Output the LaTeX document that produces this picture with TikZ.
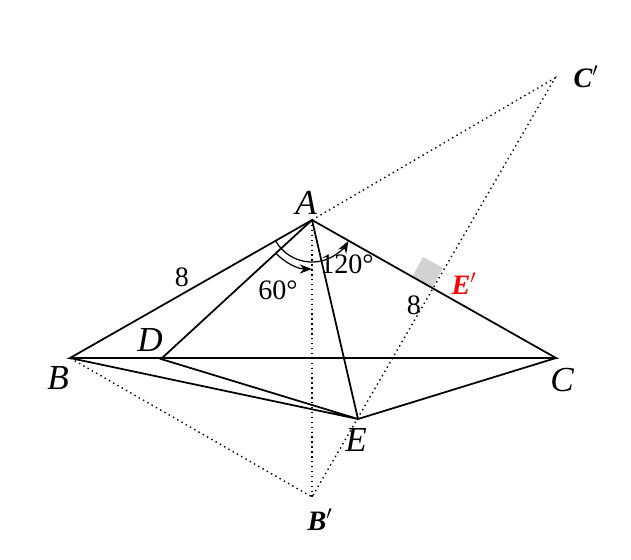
\documentclass[tikz,border=0pt]{standalone}
\usepackage{fontspec}
\setmainfont{Liberation Serif}
\usetikzlibrary{arrows.meta}
\begin{document}
\begin{tikzpicture}[x=0.02cm,y=-0.02cm,line width=1pt,
  dot/.style={dotted,line width=0.8pt},
  lbl/.style={font=\fontsize{20}{20}\selectfont\itshape},
  plbl/.style={font=\fontsize{16}{16}\selectfont\bfseries\itshape},
  num/.style={font=\fontsize{16}{16}\selectfont}]
\useasboundingbox (0,0) rectangle (631,560);
\coordinate (A) at (312,220);
\coordinate (B) at (70,358);
\coordinate (C) at (556,358);
\coordinate (D) at (161,359);
\coordinate (E) at (358,419);
\coordinate (Bp) at (312,497);
\coordinate (Cp) at (555,78);
\coordinate (Ep) at (432,288);
% gray square at E'
\fill [gray!35,line width=0pt] (Ep) -- ++(-20,-11) -- ++(11,-20) -- ++(20,11) -- cycle;
% dotted lines
\draw [dot] (A) -- (Cp) -- (Bp) -- (B);
\draw [dot] (A) -- (Bp);
% solid lines
\draw (A) -- (B) -- (C) -- cycle;
\draw (A) -- (D) -- (E) -- (B);
\draw (A) -- (E) -- (C);
% angle arcs
\draw [line width=0.7pt,-{Stealth[length=7pt]}] (A) ++(150:42) arc (150:30:42);
\draw [line width=0.7pt,-{Stealth[length=7pt]}] (A) ++(138:49) arc (138:90:49);
% labels
\node [lbl] (lA) at (306,203) {A};
\node [lbl] (lB) at (58,378) {B};
\node [lbl] (lC) at (562,380) {C};
\node [lbl] (lD) at (150,340) {D};
\node [lbl] (lE) at (356,440) {E};
\node [plbl] (lBp) at (320,520) {B$'$};
\node [plbl] (lCp) at (586,77) {C$'$};
\node [plbl,red] (lEp) at (464,284) {E$'$};
\node [num] (n8a) at (182,277) {8};
\node [num] (n8b) at (414,305) {8};
\node [num] (a120) at (347,264) {120°};
\node [num] (a60) at (278,290) {60°};
\end{tikzpicture}
\end{document}
